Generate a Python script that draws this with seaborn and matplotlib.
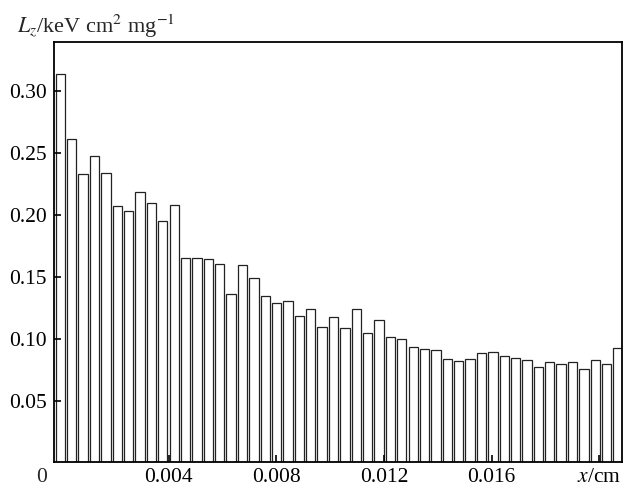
import matplotlib
matplotlib.use("Agg")
import matplotlib.pyplot as plt
import seaborn as sns
import numpy as np

# stopping power per depth bin (50 bins)
lz = [0.3135, 0.261, 0.2327, 0.2472, 0.2337, 0.2074, 0.2033, 0.2187, 0.2098, 0.1947,
      0.2077, 0.1649, 0.1649, 0.1640, 0.1605, 0.1363, 0.1595, 0.1487, 0.1342, 0.1290,
      0.1301, 0.1180, 0.1237, 0.1096, 0.1172, 0.1083, 0.1242, 0.1048, 0.1153, 0.1010,
      0.0994, 0.0935, 0.0919, 0.0911, 0.0838, 0.0817, 0.0833, 0.0881, 0.0892, 0.0862,
      0.0841, 0.0827, 0.0773, 0.0808, 0.0795, 0.0808, 0.0752, 0.0830, 0.0797, 0.0927]
x_ticks = [0.004, 0.008, 0.012, 0.016, 0.020]
x_ticklabels = ["0.004", "0.008", "0.012", "0.016", r"$x$/cm"]
y_ticks = [0.05, 0.10, 0.15, 0.20, 0.25, 0.30]
y_ticklabels = ["0.05", "0.10", "0.15", "0.20", "0.25", "0.30"]

sns.set_style("ticks")
plt.rcParams["font.family"] = ["Liberation Serif", "DejaVu Serif"]
plt.rcParams["mathtext.fontset"] = "stix"

lo, hi = -0.000239, 0.020915
n = len(lz)
pitch = (hi - lo) / n
centers = [lo + (i + 0.5) * pitch for i in range(n)]

fig = plt.figure(figsize=(6.27, 4.88), dpi=100)
ax = fig.add_axes([54 / 627, 1 - 462.4 / 488, (622 - 54) / 627, (462.4 - 42) / 488])

sns.histplot(x=centers, weights=lz, bins=n, binrange=(lo, hi), shrink=0.82,
             color="white", edgecolor="#222222", linewidth=0.9, alpha=1, ax=ax)

ax.set_axisbelow(False)
ax.set_xlim(-0.000264, 0.02085)
ax.set_ylim(0, 0.3396)
ax.set_xticks(x_ticks)
ax.set_xticklabels(x_ticklabels, fontsize=15.5)
ax.set_yticks(y_ticks)
ax.set_yticklabels(y_ticklabels, fontsize=15.5)
ax.tick_params(axis="both", direction="in", length=5, width=1.2, pad=5,
               top=False, right=False, colors="black")
ax.tick_params(axis="x", pad=4)
ax.set_xlabel("")
ax.set_ylabel("")
for s in ax.spines.values():
    s.set_visible(True)
    s.set_linewidth(1.3)
    s.set_color("black")

fig.text(42 / 627, 1 - 478 / 488, "0", fontsize=15.5, ha="center", va="center")
fig.text(17 / 627, 1 - 33 / 488, r"$L_z$/keV cm$^2$ mg$^{-1}$", fontsize=16,
         ha="left", va="baseline")

fig.savefig("out.png", dpi=100)
